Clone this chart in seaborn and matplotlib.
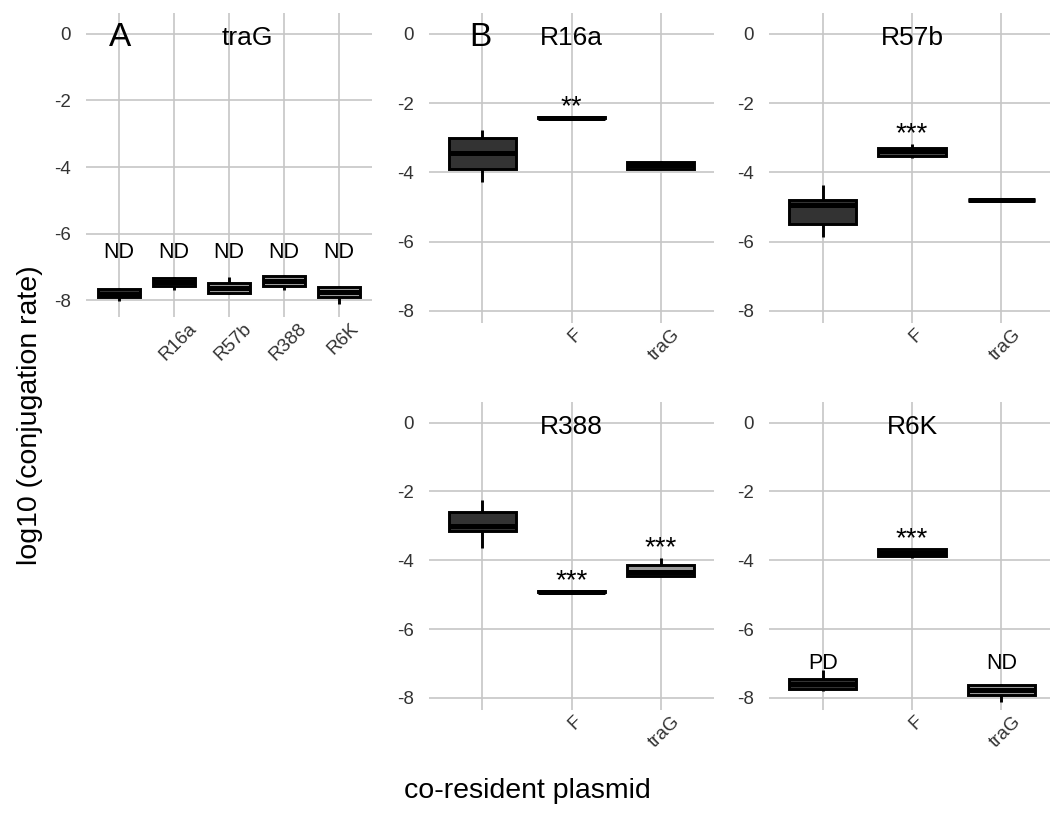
import numpy as np
import pandas as pd
import matplotlib
matplotlib.use("Agg")
import matplotlib.pyplot as plt
import matplotlib.transforms as mtransforms
import seaborn as sns

sns.set_theme(style="white")
plt.rcParams['font.family'] = ['Liberation Sans', 'DejaVu Sans']

# ---------------- data ----------------
# Panel A: focal plasmid traG with co-resident plasmids (log10 conjugation rate)
a_groups = ["none", "R16a", "R57b", "R388", "R6K"]
a_ticklabels = ["", "R16a", "R57b", "R388", "R6K"]
a_none = [-8.03, -7.90, -7.80, -7.65, -7.63]
a_r16a = [-7.68, -7.57, -7.45, -7.32, -7.30]
a_r57b = [-7.80, -7.78, -7.63, -7.47, -7.30]
a_r388 = [-7.70, -7.58, -7.43, -7.28, -7.23]
a_r6k = [-8.10, -7.90, -7.75, -7.60, -7.58]
a_detect = ["ND", "ND", "ND", "ND", "ND"]
a_detect_y = -6.55

# Panel B: focal plasmids with co-resident none / F / traG
b_groups = ["none", "F", "traG"]
b_ticklabels = ["", "F", "traG"]

r16a_none = [-4.27, -3.89, -3.45, -3.02, -2.78]
r16a_F = [-2.45, -2.44, -2.42, -2.40, -2.39]
r16a_traG = [-3.90, -3.89, -3.80, -3.70, -3.67]
r16a_stars = ["", "**", ""]
r16a_detect = ["", "", ""]

r57b_none = [-5.86, -5.48, -4.95, -4.80, -4.37]
r57b_F = [-3.58, -3.53, -3.38, -3.29, -3.19]
r57b_traG = [-4.82, -4.81, -4.80, -4.79, -4.78]
r57b_stars = ["", "***", ""]
r57b_detect = ["", "", ""]

r388_none = [-3.65, -3.16, -3.00, -2.60, -2.26]
r388_F = [-4.93, -4.92, -4.91, -4.90, -4.89]
r388_traG = [-4.46, -4.45, -4.35, -4.13, -3.94]
r388_stars = ["", "***", "***"]
r388_detect = ["", "", ""]

r6k_none = [-7.79, -7.74, -7.60, -7.46, -7.20]
r6k_F = [-3.93, -3.87, -3.78, -3.68, -3.66]
r6k_traG = [-8.13, -7.91, -7.77, -7.61, -7.60]
r6k_stars = ["", "***", ""]
r6k_detect = ["PD", "", "ND"]
b_detect_y = -7.0

yticks = [-8, -6, -4, -2, 0]
ytick_labels = ["-8", "-6", "-4", "-2", "0"]

fills = {"none": "#333333", "F": "#4a4a4a", "traG": "#999999",
         "R16a": "#999999", "R57b": "#999999", "R388": "#999999", "R6K": "#999999"}

# ---------------- figure ----------------
W, H = 1050, 813
fig = plt.figure(figsize=(W / 100, H / 100), dpi=100)


def add_ax(x0, y0, x1, y1):
    return fig.add_axes([x0 / W, 1 - y1 / H, (x1 - x0) / W, (y1 - y0) / H])


GRID = "#c6c6c6"
TICKC = "#333333"


def draw_panel(ax, groups, ticklabels, series, ylim, title, title_x=0.5,
               stars=None, detect=None, detect_y=None, letter=None, letter_x=None):
    df = pd.DataFrame({
        "group": np.repeat(groups, [len(s) for s in series]),
        "value": np.concatenate([np.asarray(s, float) for s in series]),
    })
    sns.boxplot(data=df, x="group", y="value", hue="group", order=groups,
                hue_order=groups, palette=[fills[g] for g in groups],
                width=0.75, linewidth=2.1, linecolor="black", whis=(0, 100),
                legend=False, ax=ax, saturation=1,
                medianprops=dict(linewidth=3.6, color="black"),
                capprops=dict(linewidth=0))
    ax.set_xlim(-0.6, len(groups) - 0.4)
    ax.set_ylim(*ylim)
    ax.set_yticks(yticks)
    ax.set_yticklabels(ytick_labels)
    ax.set_xticks(range(len(groups)))
    ax.set_xticklabels(ticklabels, rotation=45, ha="center", va="top")
    ax.tick_params(axis="both", length=0, labelsize=13.5, labelcolor=TICKC)
    ax.tick_params(axis="y", pad=11)
    ax.tick_params(axis="x", pad=2)
    for lab in ax.get_xticklabels():
        lab.set_transform(lab.get_transform() + mtransforms.ScaledTranslation(4 / 100, 0, fig.dpi_scale_trans))
    ax.grid(True, color=GRID, linewidth=1.2)
    ax.set_axisbelow(True)
    for sp in ax.spines.values():
        sp.set_visible(False)
    ax.set_xlabel("")
    ax.set_ylabel("")
    ax.set_facecolor("none")
    tr = mtransforms.blended_transform_factory(ax.transAxes, ax.transData)
    ax.text(title_x, -0.12, title, transform=tr, ha="center", va="center",
            fontsize=19, color="black")
    if letter:
        ax.text(letter_x, -0.12, letter, transform=tr, ha="center", va="center",
                fontsize=24, color="black")
    if stars:
        for i, s in enumerate(stars):
            if s:
                ax.text(i, max(series[i]) + 0.28, s, ha="center", va="center",
                        fontsize=20, color="black")
    if detect:
        for i, s in enumerate(detect):
            if s:
                ax.text(i, detect_y, s, ha="center", va="center",
                        fontsize=15.5, color="black")


axA = add_ax(86, 13, 372, 317)
draw_panel(axA, a_groups, a_ticklabels, [a_none, a_r16a, a_r57b, a_r388, a_r6k],
           (-8.5, 0.62), "traG", title_x=0.563, detect=a_detect, detect_y=a_detect_y,
           letter="A", letter_x=0.119)

ax1 = add_ax(429, 13, 714, 323)
draw_panel(ax1, b_groups, b_ticklabels, [r16a_none, r16a_F, r16a_traG],
           (-8.35, 0.6), "R16a", stars=r16a_stars, detect=r16a_detect,
           detect_y=b_detect_y, letter="B", letter_x=0.18)

ax2 = add_ax(769, 13, 1055, 323)
draw_panel(ax2, b_groups, b_ticklabels, [r57b_none, r57b_F, r57b_traG],
           (-8.35, 0.6), "R57b", stars=r57b_stars, detect=r57b_detect,
           detect_y=b_detect_y)

ax3 = add_ax(429, 402, 714, 710)
draw_panel(ax3, b_groups, b_ticklabels, [r388_none, r388_F, r388_traG],
           (-8.35, 0.6), "R388", stars=r388_stars, detect=r388_detect,
           detect_y=b_detect_y)

ax4 = add_ax(769, 402, 1055, 710)
draw_panel(ax4, b_groups, b_ticklabels, [r6k_none, r6k_F, r6k_traG],
           (-8.35, 0.6), "R6K", stars=r6k_stars, detect=r6k_detect,
           detect_y=b_detect_y)

fig.text(30 / W, 1 - 415 / H, "log10 (conjugation rate)", rotation=90,
         ha="center", va="center", fontsize=20.5, color="black")
fig.text(527 / W, 1 - 791 / H, "co-resident plasmid", ha="center", va="center",
         fontsize=20.5, color="black")

fig.savefig("out.png", dpi=100, facecolor="white")
